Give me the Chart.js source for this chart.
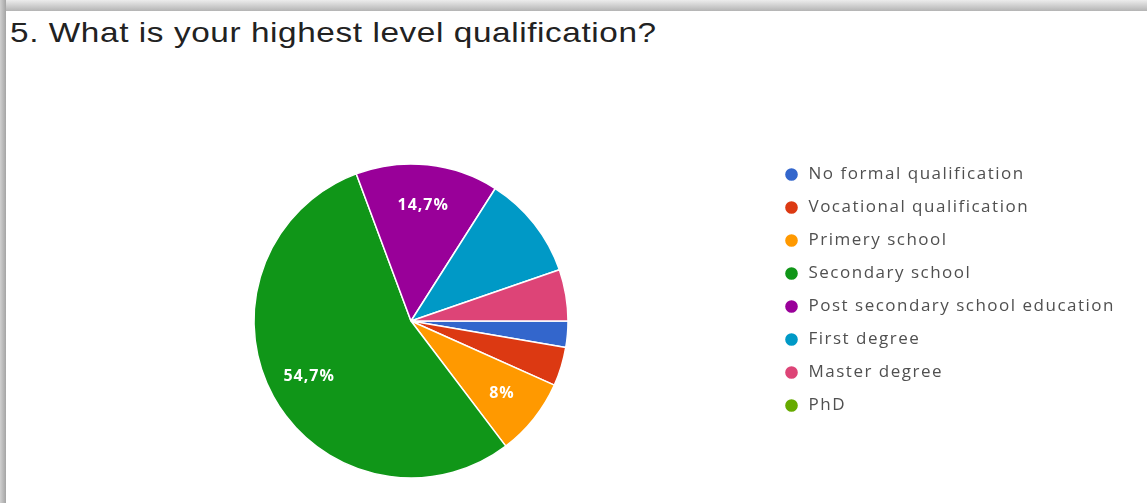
<!DOCTYPE html>
<html>
<head>
<meta charset="utf-8">
<script src="https://cdn.jsdelivr.net/npm/chart.js@4/dist/chart.umd.min.js"></script>
<style>
  html, body { margin: 0; padding: 0; background: #fff; }
  body { width: 1147px; height: 503px; position: relative; overflow: hidden; }
  .edge-top { position: absolute; left: 0; top: 0; width: 1147px; height: 11px;
    background: linear-gradient(to bottom, #ececec, #b4b4b4); }
  .edge-left { position: absolute; left: 0; top: 0; width: 6px; height: 503px;
    background: linear-gradient(to right, #d0d0d0, #a4a4a4); }
  .title { position: absolute; left: 10px; top: 17px; line-height: 32px;
    font-family: "Liberation Sans", Arial, sans-serif; font-size: 28px;
    letter-spacing: 0.5px; color: #222; white-space: nowrap;
    transform: scaleX(1.19); transform-origin: left top; }
  #pie { position: absolute; left: 0; top: 0; }
</style>
</head>
<body>
<div class="edge-top"></div>
<div class="edge-left"></div>
<div class="title">5. What is your highest level qualification?</div>
<canvas id="pie" width="1147" height="503"></canvas>
<script>
const categories = [
  'No formal qualification',
  'Vocational qualification',
  'Primery school',
  'Secondary school',
  'Post secondary school education',
  'First degree',
  'Master degree',
  'PhD'
]
const shares = [ 2.7, 4, 8, 54.7, 14.7, 10.7, 5.3, 0 ]
const sliceLabels = [ '', '', '8%', '54,7%', '14,7%', '', '', '' ]
const sliceColors = [ '#3366cc', '#dc3912', '#ff9900', '#109618', '#990099', '#0099c6', '#dd4477', '#66aa00' ]

// a little extra tracking on the legend text
const spacing = {
  id: 'spacing',
  beforeLayout: chart => { chart.ctx.letterSpacing = '1.5px' },
  beforeDraw: chart => { chart.ctx.letterSpacing = '1.5px' }
}

// percentage text inside the slices
const sliceText = {
  id: 'sliceText',
  afterDatasetsDraw( chart ) {
    const ctx = chart.ctx
    const arcs = chart.getDatasetMeta( 0 ).data
    ctx.save()
    ctx.letterSpacing = '1px'
    ctx.font = 'bold 16px "Open Sans", Arial, sans-serif'
    ctx.fillStyle = '#ffffff'
    ctx.textAlign = 'center'
    ctx.textBaseline = 'middle'
    arcs.forEach( ( arc, i ) => {
      if ( !sliceLabels[ i ] ) return
      const { startAngle, endAngle, outerRadius, x, y } = arc.getProps( [ 'startAngle', 'endAngle', 'outerRadius', 'x', 'y' ] )
      const mid = ( startAngle + endAngle ) / 2
      const r = outerRadius * 0.74
      ctx.fillText( sliceLabels[ i ], x + Math.cos( mid ) * r, y + Math.sin( mid ) * r )
    } )
    ctx.restore()
  }
}

const data = {
  labels: categories,
  datasets: [ {
    data: shares,
    backgroundColor: sliceColors,
    borderColor: '#ffffff',
    borderWidth: 1.5
  } ]
}

const config = {
  type: 'pie',
  data: data,
  options: {
    responsive: false,
    animation: false,
    rotation: 90,
    radius: 157,
    layout: {
      padding: { left: 55, right: 22, top: 150, bottom: 11 }
    },
    plugins: {
      tooltip: { enabled: false },
      legend: {
        position: 'right',
        align: 'start',
        labels: {
          usePointStyle: true,
          pointStyle: 'circle',
          boxHeight: 10,
          padding: 16,
          color: '#505050',
          font: { family: '"Open Sans", Arial, sans-serif', size: 17 }
        }
      }
    }
  },
  plugins: [ spacing, sliceText ]
}

const graph = new Chart( document.getElementById( 'pie' ), config )
</script>
</body>
</html>
